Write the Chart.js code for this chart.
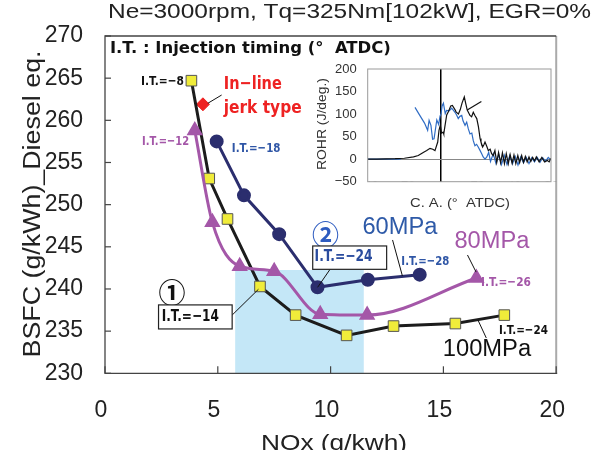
<!DOCTYPE html>
<html><head><meta charset="utf-8">
<script src="https://cdn.jsdelivr.net/npm/chart.js@4.4.1/dist/chart.umd.min.js"></script>
<style>
html,body{margin:0;padding:0;background:#fff;}
#wrap{position:relative;width:593px;height:450px;overflow:hidden;background:#fff;}
#main{position:absolute;left:0;top:0;}
#inset{position:absolute;left:300px;top:40px;}
</style></head><body>
<div id="wrap"><canvas id="main" width="593" height="450"></canvas><canvas id="inset" width="270" height="180"></canvas></div>
<script>
// ---------- main chart data ----------
const nox100  = [3.83, 4.62, 5.43, 6.87, 8.45, 10.71, 12.79, 15.53, 17.70];
const bsfc100 = [264.7, 253.1, 248.3, 240.3, 236.9, 234.5, 235.6, 235.9, 236.9];
const nox80   = [3.98, 4.76, 5.97, 7.50, 9.54, 11.62, 16.46];
const bsfc80  = [258.8, 247.9, 242.7, 242.1, 237.0, 236.9, 241.3];
const nox60   = [4.95, 6.16, 7.72, 9.42, 11.65, 13.95];
const bsfc60  = [257.5, 251.1, 246.5, 240.2, 241.1, 241.7];
const noxJerk  = [4.34];
const bsfcJerk = [261.9];
const shadeNox  = [5.77, 11.47];
const shadeBsfc = [230, 242.25];
const xTickValues = [0, 5, 10, 15, 20];
const yTickValues = [230, 235, 240, 245, 250, 255, 260, 265, 270];

// ---------- inset (ROHR) data ----------
const caBlack = [-40,-35,-30,-25,-20,-15,-12.4,-9.7,-7.8,-6,-4.5,-3.3,-1.8,-1.1,-0.4,0.3,1.2,1.5,2.2,3.1,4.0,5.3,6.2,7.6,8.2,9.5,10.5,11.5,12.7,13.4,14.3,15.8,16.7,17.6,18.5,19.5,20.4,21.3,21.8,22.7,23.4,24,25,25.8,26.8,27.6,28.5,29.4,30.4,31.4,32.5,33.5,34.6,35.6,36.7,37.7,38.8,39.8,40.8,41.9,42.9,44,45,46,47,48,49,50,51,52,53.5,55,56.5,58,59,60];
const rohrBlack = [0,0,0.5,1,2,5,8,15,19,24,22,19,38,64,75,58,60,56,75,98,105,118,119,110,105,100,110,125,138,125,109,97,94,104,97,90,72,46,38,27,32,38,28,19,22,12,8,19,-7,15,-8,14,-10,12,-10,10,-9,9,-10,8,-8,8,-7,6,-6,5,-5,4,-4,5,-6,4,-6,-3,-6,2];
const caBlue = [-40,-30,-22,null,-14.2,-12,-9,-7.3,-6.5,-5.5,-4.6,-3.8,-2.3,-1.3,-0.5,0,0.6,1.3,2.3,3,4.4,5.8,6.8,7.6,8.5,9.4,10.3,11.3,12,13.1,14,14.9,15.8,16.8,17.6,18.5,19.4,20.3,21.2,22.2,23,24,25,26,27,28.5,30,31.5,33,34.5,36,37.5,39,40.5,42,43.5,45,46.5,48,49.5,51,52.5,54,55.5,57,58.5,60];
const rohrBlue = [0,0,0,null,115,100,80,64,86,75,44,45,87,77,96,100,118,124,101,108,107,113,108,104,98,90,95,97,85,75,82,67,56,58,41,30,33,27,20,12,5,0,5,15,-5,12,-10,10,-12,9,-12,8,-10,6,-13,5,-8,4,-10,3,-6,4,-7,3,-5,4,-2];
const caPointer = [14.3, 22];
const rohrPointer = [109, 128];
const caTickValues = [-40, -20, 0, 20, 40, 60];
const rohrTickValues = [-50, 0, 50, 100, 150, 200];

// ---------- annotation layout (data coordinates of main chart) ----------
const BOLD = '"DejaVu Sans", "Liberation Sans", sans-serif';
const REG = '"Liberation Sans", Arial, sans-serif';
const notes = [
  {t:'I.T. : Injection timing (\u00b0\u00a0\u00a0ATDC)', x:6.445, y:268.46, w:281, f:'bold 16px '+BOLD, c:'#111'},
  {t:'I.T.=\u22128',  x:2.55,  y:264.55, w:43,   f:'bold 13px '+BOLD, c:'#111'},
  {t:'In\u2212line',  x:6.55,  y:264.31, w:58,   f:'bold 18px '+BOLD, c:'#ee2222'},
  {t:'jerk type',     x:6.99,  y:261.46, w:78,   f:'bold 18px '+BOLD, c:'#ee2222'},
  {t:'I.T.=\u221212', x:2.687, y:257.43, w:47,   f:'bold 13px '+BOLD, c:'#a457a8'},
  {t:'I.T.=\u221218', x:6.70,  y:256.6,  w:48.7, f:'bold 13px '+BOLD, c:'#2f56a6'},
  {t:'\u2460',        x:2.971, y:239.53, w:0,    f:'bold 27px "Noto Sans CJK JP"', c:'#111'},
  {t:'I.T.=\u221214', x:3.78,  y:236.68, w:57.3, f:'bold 16px '+BOLD, c:'#111', box:[2.373,238.11,5.636,235.26]},
  {t:'\u2461',        x:9.775, y:246.44, w:0,    f:'bold 27px "Noto Sans CJK JP"', c:'#2e5cc0'},
  {t:'I.T.=\u221224', x:10.575,y:243.76, w:58,   f:'bold 16px '+BOLD, c:'#2a4c9e', box:[9.207,245.10,12.484,242.33]},
  {t:'60MPa',         x:13.074,y:247.31, w:75,   f:'23px '+REG, c:'#2e5aa8'},
  {t:'I.T.=\u221228', x:14.20, y:243.23, w:48,   f:'bold 13px '+BOLD, c:'#2f56a6'},
  {t:'80MPa',         x:17.151,y:245.61, w:75,   f:'23px '+REG, c:'#a457a8'},
  {t:'I.T.=\u221226', x:17.772,y:240.71, w:50,   f:'bold 13px '+BOLD, c:'#a457a8'},
  {t:'I.T.=\u221224', x:18.549,y:235.02, w:49,   f:'bold 13px '+BOLD, c:'#111'},
  {t:'100MPa',        x:16.93, y:232.86, w:88.4, f:'23px '+REG, c:'#111'}
];
const leaders = [
  [4.558,262.02,5.17,263.0],
  [5.637,236.91,6.80,239.96],
  [9.976,242.33,9.425,240.2],
  [12.746,245.81,13.183,241.54],
  [16.067,244.03,16.45,242.0],
  [16.53,236.32,16.90,234.19]
];

function fitText(ctx, txt, cx, cy, w, font, color, opts) {
  opts = opts || {};
  ctx.save();
  ctx.font = font; ctx.fillStyle = color;
  ctx.textBaseline = opts.baseline || 'middle';
  ctx.textAlign = 'center';
  const nat = ctx.measureText(txt).width || 1;
  ctx.translate(cx, cy);
  if (opts.rot) ctx.rotate(opts.rot);
  if (w) ctx.scale(w / nat, 1);
  ctx.fillText(txt, 0, 0);
  ctx.restore();
}

const mainPlugin = {
  id: 'mainDecor',
  beforeDatasetsDraw(chart) {
    const {ctx, chartArea: a, scales: {x, y}} = chart;
    ctx.save();
    ctx.fillStyle = '#c4e7f7';
    const x0 = x.getPixelForValue(shadeNox[0]), x1 = x.getPixelForValue(shadeNox[1]);
    const y0 = y.getPixelForValue(shadeBsfc[1]), y1 = y.getPixelForValue(shadeBsfc[0]);
    ctx.fillRect(x0, y0, x1 - x0, y1 - y0);
    // frame
    ctx.strokeStyle = '#aaa'; ctx.lineWidth = 2;
    ctx.beginPath(); ctx.moveTo(a.right, a.top); ctx.lineTo(a.right, a.bottom); ctx.stroke();
    ctx.strokeStyle = '#444'; ctx.lineWidth = 1.3;
    ctx.beginPath();
    ctx.moveTo(a.right, a.top); ctx.lineTo(a.left, a.top); ctx.lineTo(a.left, a.bottom); ctx.lineTo(a.right + 1, a.bottom);
    ctx.stroke();
    // inner ticks
    ctx.lineWidth = 1.2;
    yTickValues.forEach(v => { const p = y.getPixelForValue(v); ctx.beginPath(); ctx.moveTo(a.left, p); ctx.lineTo(a.left + 6, p); ctx.stroke(); });
    xTickValues.forEach(v => { const p = x.getPixelForValue(v); ctx.beginPath(); ctx.moveTo(p, a.bottom); ctx.lineTo(p, a.bottom - 7); ctx.stroke(); });
    ctx.restore();
  },
  afterDraw(chart) {
    const {ctx, scales: {x, y}} = chart;
    ctx.save();
    ctx.strokeStyle = '#111'; ctx.lineWidth = 1;
    leaders.forEach(l => {
      ctx.beginPath();
      ctx.moveTo(x.getPixelForValue(l[0]), y.getPixelForValue(l[1]));
      ctx.lineTo(x.getPixelForValue(l[2]), y.getPixelForValue(l[3]));
      ctx.stroke();
    });
    notes.forEach(n => {
      if (n.box) {
        const bx0 = x.getPixelForValue(n.box[0]), by0 = y.getPixelForValue(n.box[1]);
        const bx1 = x.getPixelForValue(n.box[2]), by1 = y.getPixelForValue(n.box[3]);
        ctx.fillStyle = '#fff'; ctx.fillRect(bx0, by0, bx1 - bx0, by1 - by0);
        ctx.strokeStyle = '#222'; ctx.lineWidth = 1.2; ctx.strokeRect(bx0, by0, bx1 - bx0, by1 - by0);
      }
      fitText(ctx, n.t, x.getPixelForValue(n.x), y.getPixelForValue(n.y), n.w, n.f, n.c);
    });
    // titles
    fitText(ctx, 'Ne=3000rpm, Tq=325Nm[102kW], EGR=0%', 349.5, 12, 483, '21px ' + REG, '#222');
    fitText(ctx, 'BSFC (g/kWh)_Diesel eq.', 34, 204, 307, '23px ' + REG, '#222', {rot: -Math.PI / 2});
    fitText(ctx, 'NOx (g/kwh)', 334, 450, 146, '22px ' + REG, '#222', {baseline: 'alphabetic'});
    ctx.restore();
  }
};

const pts = (xs, ys) => xs.map((v, i) => ({x: v, y: ys[i]}));

new Chart(document.getElementById('main'), {
  type: 'line',
  data: {
    datasets: [
      {label: '60MPa', data: pts(nox60, bsfc60), borderColor: '#2b2e6e', backgroundColor: '#2b2e6e', borderWidth: 3,
       pointStyle: 'circle', pointRadius: 5.5, pointBackgroundColor: '#2b2e6e', pointBorderColor: '#2b2e6e', tension: 0},
      {label: '80MPa', data: pts(nox80, bsfc80), borderColor: '#a457a8', backgroundColor: '#a457a8', borderWidth: 3,
       pointStyle: 'triangle', pointRadius: 6.5, pointBackgroundColor: '#a457a8', pointBorderColor: '#a457a8', cubicInterpolationMode: 'monotone'},
      {label: '100MPa', data: pts(nox100, bsfc100), borderColor: '#1c1c1c', backgroundColor: '#f0ec3a', borderWidth: 3,
       pointStyle: 'rect', pointRadius: 7.5, pointBackgroundColor: '#f0ec3a', pointBorderColor: '#555', pointBorderWidth: 1, tension: 0},
      {label: 'In-line jerk type', data: pts(noxJerk, bsfcJerk), showLine: false, pointStyle: 'rectRot', pointRadius: 6.5,
       pointBackgroundColor: '#ee2222', pointBorderColor: '#ee2222', borderColor: '#ee2222'}
    ]
  },
  options: {
    responsive: false, animation: false, devicePixelRatio: 1,
    layout: {padding: {top: 36, right: 30.3, left: 0, bottom: 0}},
    plugins: {legend: {display: false}, tooltip: {enabled: false}, title: {display: false}},
    scales: {
      x: {type: 'linear', min: 0, max: 20,
          afterBuildTicks: s => { s.ticks = xTickValues.map(v => ({value: v})); },
          afterFit: s => { s.height = 76.7; },
          grid: {display: false, drawTicks: false}, border: {display: false},
          ticks: {padding: 24, labelOffset: -4, autoSkip: false, maxRotation: 0, font: {family: 'Liberation Sans', size: 23}, color: '#222'}},
      y: {type: 'linear', min: 230, max: 270,
          afterBuildTicks: s => { s.ticks = yTickValues.map(v => ({value: v})); },
          afterFit: s => { s.width = 105; },
          grid: {display: false, drawTicks: false}, border: {display: false},
          ticks: {padding: 22, autoSkip: false, font: {family: 'Liberation Sans', size: 23}, color: '#222'}}
    }
  },
  plugins: [mainPlugin]
});

// ---------- inset ----------
const insetPlugin = {
  id: 'insetDecor',
  afterDraw(chart) {
    const {ctx, chartArea: a} = chart;
    ctx.save();
    ctx.strokeStyle = '#999'; ctx.lineWidth = 1;
    ctx.strokeRect(a.left, a.top, a.right - a.left, a.bottom - a.top);
    fitText(ctx, 'ROHR (J/deg.)', 22.5, 84, 92, '13px ' + REG, '#333', {rot: -Math.PI / 2});
    fitText(ctx, 'C. A. (\u00b0\u00a0\u00a0ATDC)', 160, 163, 100, '13px ' + REG, '#333');
    ctx.restore();
  }
};
const minus = v => String(v).replace('-', '\u2212');

new Chart(document.getElementById('inset'), {
  type: 'line',
  data: {
    datasets: [
      {data: pts(caBlack, rohrBlack), borderColor: '#111', borderWidth: 1.2, pointRadius: 0, tension: 0},
      {data: caBlue.map((v, i) => (v === null ? {x: -18, y: null} : {x: v, y: rohrBlue[i]})), borderColor: '#2f6cc4', borderWidth: 1.2, pointRadius: 0, tension: 0, spanGaps: false},
      {data: pts(caPointer, rohrPointer), borderColor: '#111', borderWidth: 1.2, pointRadius: 0}
    ]
  },
  options: {
    responsive: false, animation: false, devicePixelRatio: 1,
    layout: {padding: {top: 29, right: 19, left: 0, bottom: 0}},
    plugins: {legend: {display: false}, tooltip: {enabled: false}},
    scales: {
      x: {type: 'linear', min: -40, max: 60,
          afterBuildTicks: s => { s.ticks = caTickValues.map(v => ({value: v})); },
          afterFit: s => { s.height = 38.3; },
          grid: {drawTicks: false, lineWidth: 1.5, color: c => (c.tick && c.tick.value === 0 ? '#000' : 'rgba(0,0,0,0)')},
          border: {display: false},
          ticks: {padding: -11, autoSkip: false, maxRotation: 0, font: {family: 'Liberation Sans', size: 13}, color: '#333', callback: minus}},
      y: {type: 'linear', min: -50, max: 200,
          afterBuildTicks: s => { s.ticks = rohrTickValues.map(v => ({value: v})); },
          afterFit: s => { s.width = 67.7; },
          grid: {drawTicks: false, lineWidth: 1, color: c => (c.tick && c.tick.value === 0 ? '#888' : 'rgba(0,0,0,0)')},
          border: {display: false},
          ticks: {padding: 11, autoSkip: false, font: {family: 'Liberation Sans', size: 13}, color: '#333', callback: minus}}
    }
  },
  plugins: [insetPlugin]
});
</script>
</body></html>
